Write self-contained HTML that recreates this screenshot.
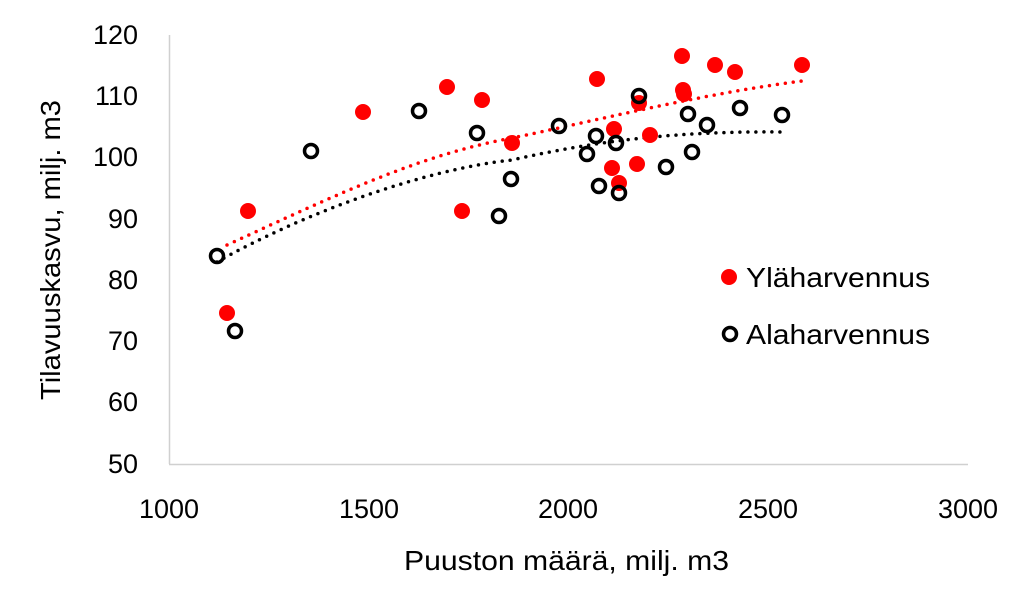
<!DOCTYPE html>
<html><head><meta charset="utf-8"><style>body{margin:0;background:#fff}svg{display:block}</style></head><body>
<svg width="1024" height="614" xmlns="http://www.w3.org/2000/svg" font-family="Liberation Sans, sans-serif">
<rect width="1024" height="614" fill="#fff"/>
<line x1="169.5" y1="35" x2="169.5" y2="464" stroke="#d0d0d0" stroke-width="1.5"/>
<line x1="169" y1="464.5" x2="968" y2="464.5" stroke="#d0d0d0" stroke-width="1.5"/>
<g font-size="27" fill="#000" text-anchor="end">
<text x="138" y="44">120</text><text x="138" y="105">110</text><text x="138" y="166">100</text>
<text x="138" y="228">90</text><text x="138" y="289">80</text><text x="138" y="350">70</text>
<text x="138" y="411">60</text><text x="138" y="473">50</text></g>
<g font-size="27" fill="#000" text-anchor="middle">
<text x="169" y="518">1000</text><text x="369" y="518">1500</text><text x="568" y="518">2000</text>
<text x="768" y="518">2500</text><text x="968" y="518">3000</text></g>
<text x="404" y="570" font-size="28" textLength="325" lengthAdjust="spacingAndGlyphs">Puuston määrä, milj. m3</text>
<text transform="translate(60,400) rotate(-90)" font-size="28" textLength="300" lengthAdjust="spacingAndGlyphs">Tilavuuskasvu, milj. m3</text>
<path d="M227,245 C340,193 420,155 512,138 C590,122 700,94 802,81" fill="none" stroke="#f00" stroke-width="3.5" stroke-linecap="round" stroke-dasharray="0 8"/>
<path d="M217,262 C300,215 420,170 512,160 C600,140 680,131 782,132" fill="none" stroke="#000" stroke-width="3.5" stroke-linecap="round" stroke-dasharray="0 8"/>
<g fill="#f00">
<circle cx="227" cy="313" r="8"/><circle cx="248" cy="211" r="8"/><circle cx="363" cy="112" r="8"/>
<circle cx="447" cy="87" r="8"/><circle cx="482" cy="100" r="8"/><circle cx="462" cy="211" r="8"/>
<circle cx="512" cy="143" r="8"/><circle cx="597" cy="79" r="8"/><circle cx="682" cy="56" r="8"/>
<circle cx="715" cy="65" r="8"/><circle cx="735" cy="72" r="8"/><circle cx="802" cy="65" r="8"/>
<circle cx="683" cy="90" r="8"/><circle cx="684" cy="94" r="8"/><circle cx="639" cy="103" r="8"/>
<circle cx="614" cy="129" r="8"/><circle cx="650" cy="135" r="8"/><circle cx="612" cy="168" r="8"/>
<circle cx="637" cy="164" r="8"/><circle cx="619" cy="183" r="8"/>
<circle cx="729" cy="277" r="8"/></g>
<g fill="none" stroke="#000" stroke-width="3.5">
<circle cx="217" cy="256" r="6.5"/><circle cx="235" cy="331" r="6.5"/><circle cx="311" cy="151" r="6.5"/>
<circle cx="419" cy="111" r="6.5"/><circle cx="477" cy="133" r="6.5"/><circle cx="511" cy="179" r="6.5"/>
<circle cx="499" cy="216" r="6.5"/><circle cx="559" cy="126" r="6.5"/><circle cx="596" cy="136" r="6.5"/>
<circle cx="587" cy="154" r="6.5"/><circle cx="599" cy="186" r="6.5"/><circle cx="619" cy="193" r="6.5"/>
<circle cx="616" cy="143" r="6.5"/><circle cx="639" cy="96" r="6.5"/><circle cx="688" cy="114" r="6.5"/>
<circle cx="707" cy="125" r="6.5"/><circle cx="740" cy="108" r="6.5"/><circle cx="782" cy="115" r="6.5"/>
<circle cx="692" cy="152" r="6.5"/><circle cx="666" cy="167" r="6.5"/>
<circle cx="730" cy="334" r="6.5"/></g>
<g font-size="28" fill="#000">
<text x="746" y="287" textLength="184" lengthAdjust="spacingAndGlyphs">Yläharvennus</text><text x="746" y="344" textLength="184" lengthAdjust="spacingAndGlyphs">Alaharvennus</text></g>
</svg>
</body></html>
